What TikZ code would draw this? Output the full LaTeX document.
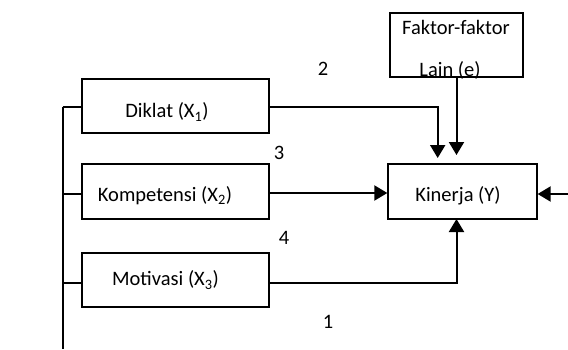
\documentclass[tikz,border=0pt]{standalone}
\usepackage{fontspec}
\setmainfont{Carlito}
\usetikzlibrary{arrows.meta,calc}
\begin{document}
\begin{tikzpicture}[x=1pt,y=-1pt,
  box/.style={draw,line width=1.3pt,rectangle,inner sep=0pt},
  lbl/.style={inner sep=0pt,font=\fontsize{20.5}{22}\selectfont},
  num/.style={inner sep=0pt,font=\fontsize{20.5}{22}\selectfont},
  conn/.style={line width=2pt},
  arr/.style={line width=2pt,-{Triangle[length=13pt,width=15pt]}}]
\useasboundingbox (0,0) rectangle (568,349);
% boxes
\node[box,minimum width=133pt,minimum height=64pt] (f) at (456.5,45) {};
\node[lbl] (ft1) at (456,27) {Faktor-faktor};
\node[lbl] (ft2) at (450,70) {Lain (e)};
\node[box,minimum width=187pt,minimum height=54pt] (d) at (175.5,106) {};
\node[lbl] (dt) at (167,112) {Diklat (X\textsubscript{1})};
\node[box,minimum width=187pt,minimum height=55pt] (c) at (175.5,191.5) {};
\node[lbl] (ct) at (165,196) {Kompetensi (X\textsubscript{2})};
\node[box,minimum width=187pt,minimum height=54pt] (m) at (175.5,280) {};
\node[lbl] (mt) at (165.5,280) {Motivasi (X\textsubscript{3})};
\node[box,minimum width=149pt,minimum height=55pt] (k) at (462.5,191.5) {};
\node[lbl] (kt) at (458,196) {Kinerja (Y)};
% numbers
\node[num] (n2) at (323,69) {2};
\node[num] (n3) at (279,153) {3};
\node[num] (n4) at (284,238) {4};
\node[num] (n1) at (328,322) {1};
% coordinates
\coordinate (dcorner) at (437.7,107);
\coordinate (dtip) at (437.7,158);
\coordinate (ftop) at (456.5,77);
\coordinate (ftip) at (456.5,155);
\coordinate (mcorner) at (456.5,283);
\coordinate (mtip) at (456.5,219);
\coordinate (rin) at (568,194);
\coordinate (bustop) at (62.7,107);
\coordinate (busbot) at (62.7,349);
% connectors
\draw[arr] (d.east |- dcorner) -- (dcorner) -- (dtip);
\draw[arr] (ftop) -- (ftip);
\draw[arr] (c.east |- 0,193) -- (k.west |- 0,193);
\draw[arr] (m.east |- mcorner) -- (mcorner) -- (mtip);
\draw[arr] (rin) -- (k.east |- rin);
\draw[conn] (bustop) -- (busbot);
\draw[conn] (bustop) -- (d.west |- bustop);
\draw[conn] (bustop |- 0,194) -- (c.west |- 0,194);
\draw[conn] (bustop |- mcorner) -- (m.west |- mcorner);
\end{tikzpicture}
\end{document}
